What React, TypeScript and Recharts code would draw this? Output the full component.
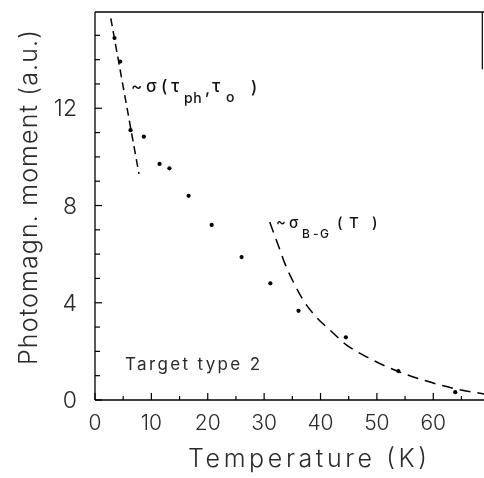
import React from 'react';
import { ComposedChart, XAxis, YAxis, Scatter, Line, ReferenceLine } from 'recharts';

const temperature = [3.46, 4.47, 6.3, 8.66, 11.45, 13.2, 16.6, 20.7, 26.0, 31.1, 36.1, 44.5, 53.8, 63.9];
const moment = [14.89, 13.92, 11.1, 10.83, 9.71, 9.53, 8.4, 7.2, 5.88, 4.8, 3.67, 2.58, 1.19, 0.32];

const phononFitX = [2.8, 7.8];
const phononFitY = [15.7, 9.3];

const bgFitX = [31.0, 32.6, 33.7, 35.3, 37.1, 39.3, 41.8, 44.4, 48.4, 53.8, 58.5, 63.8, 69];
const bgFitY = [7.32, 6.3, 5.6, 4.8, 4.05, 3.4, 2.85, 2.3, 1.75, 1.17, 0.8, 0.47, 0.25];

const xTicks = [0, 5, 10, 15, 20, 25, 30, 35, 40, 45, 50, 55, 60, 65];
const xLabelTicks = [0, 10, 20, 30, 40, 50, 60];
const yTicks = [0, 1, 2, 3, 4, 5, 6, 7, 8, 9, 10, 11, 12, 13, 14, 15];
const yLabelTicks = [0, 4, 8, 12];

const X_MAX = 69;
const Y_MAX = 15.96;

const points = temperature.map((t, i) => ({ x: t, y: moment[i] }));
const phononFit = phononFitX.map((t, i) => ({ x: t, y: phononFitY[i] }));
const bgFit = bgFitX.map((t, i) => ({ x: t, y: bgFitY[i] }));

const W = 484;
const H = 478;
const M = { top: 12, right: 0, bottom: 38, left: 35 };
const Y_AXIS_W = 60;
const X_AXIS_H = 40;
const AXIS_X = M.left + Y_AXIS_W; // left axis line position
const AXIS_Y = H - M.bottom - X_AXIS_H; // bottom axis line position

const FONT = "Inter, 'DejaVu Sans', sans-serif";
const TXT = '#2a2a2a';
const ANN = '#111';

const XTick = (props: any) => {
  const { x, payload } = props;
  const major = xLabelTicks.includes(payload.value);
  return (
    <g>
      <path d={`M${x},${AXIS_Y}V${AXIS_Y - (major ? 7 : 4)}`} stroke="#000" strokeWidth={1.2} fill="none" />
      {major && (
        <text x={x} y={AXIS_Y + 30} textAnchor="middle" fontSize={21} fontFamily={FONT} fontWeight={300} fill={TXT}>
          {payload.value}
        </text>
      )}
    </g>
  );
};

const YTick = (props: any) => {
  const { y, payload } = props;
  const major = yLabelTicks.includes(payload.value);
  return (
    <g>
      <path d={`M${AXIS_X},${y}H${AXIS_X + (major ? 7 : 5)}`} stroke="#000" strokeWidth={1.2} fill="none" />
      {major && (
        <text x={AXIS_X - 18} y={y + 8} textAnchor="end" fontSize={23} fontFamily={FONT} fontWeight={300} fill={TXT}>
          {payload.value}
        </text>
      )}
    </g>
  );
};

const Dot = (props: any) => <circle cx={props.cx} cy={props.cy} r={2.1} fill="#000" />;

export default function App() {
  return (
    <div style={{ position: 'fixed', left: 0, top: 0, width: W, height: H }}>
      <ComposedChart width={W} height={H} margin={M}>
        <XAxis
          type="number"
          dataKey="x"
          domain={[0, X_MAX]}
          ticks={xTicks}
          interval={0}
          allowDataOverflow
          height={X_AXIS_H}
          tickSize={0}
          tickMargin={0}
          tickLine={false}
          tick={<XTick />}
          axisLine={{ stroke: '#000', strokeWidth: 1.3 }}
        />
        <YAxis
          type="number"
          dataKey="y"
          domain={[0, Y_MAX]}
          ticks={yTicks}
          interval={0}
          allowDataOverflow
          width={Y_AXIS_W}
          tickSize={0}
          tickMargin={0}
          tickLine={false}
          tick={<YTick />}
          axisLine={{ stroke: '#000', strokeWidth: 1.3 }}
        />
        <ReferenceLine y={Y_MAX} stroke="#000" strokeWidth={1.3} />
        <ReferenceLine segment={[{ x: 68.7, y: 13.6 }, { x: 68.7, y: Y_MAX }]} stroke="#000" strokeWidth={1.2} />
        <Line data={phononFit} dataKey="y" type="linear" stroke="#000" strokeWidth={1.5} strokeDasharray="8 5" dot={false} isAnimationActive={false} />
        <Line data={bgFit} dataKey="y" type="monotone" stroke="#000" strokeWidth={1.5} strokeDasharray="11 7" dot={false} isAnimationActive={false} />
        <Scatter data={points} dataKey="y" shape={<Dot />} isAnimationActive={false} />
      </ComposedChart>
      <svg width={W} height={H} style={{ position: 'absolute', left: 0, top: 0, pointerEvents: 'none' }}>
        <text x={188} y={467} fontSize={25} fontFamily={FONT} fontWeight={300} fill={TXT} textLength={239} lengthAdjust="spacing">
          Temperature (K)
        </text>
        <text
          transform="translate(37,365) rotate(-90)"
          x={0}
          y={0}
          fontSize={25}
          fontFamily={FONT}
          fontWeight={300}
          fill={TXT}
          textLength={335}
          lengthAdjust="spacing"
        >
          Photomagn. moment (a.u.)
        </text>
        <text x={125} y={370} fontSize={17} fontFamily={FONT} fontWeight={400} fill={TXT} textLength={135} lengthAdjust="spacing">
          Target type 2
        </text>
        <text fontSize={17} fontFamily={FONT} fontWeight={500} fill={ANN}>
          <tspan x={131} y={92}>~</tspan>
          <tspan x={146} y={92}>σ</tspan>
          <tspan x={161} y={92}>(</tspan>
          <tspan x={171} y={92}>τ</tspan>
          <tspan x={184} y={103} fontSize={14} letterSpacing={0.5}>ph</tspan>
          <tspan x={205} y={94}>,</tspan>
          <tspan x={212} y={92}>τ</tspan>
          <tspan x={226} y={102} fontSize={14}>o</tspan>
          <tspan x={251} y={93}>)</tspan>
        </text>
        <text fontSize={15} fontFamily={FONT} fontWeight={500} fill={ANN}>
          <tspan x={276} y={227}>~</tspan>
          <tspan x={289} y={228}>σ</tspan>
          <tspan x={302} y={238} fontSize={12}>B</tspan>
          <tspan x={313} y={238} fontSize={12}>-</tspan>
          <tspan x={320} y={238} fontSize={12}>G</tspan>
          <tspan x={337} y={228}>(</tspan>
          <tspan x={349} y={228}>T</tspan>
          <tspan x={372} y={228}>)</tspan>
        </text>
      </svg>
    </div>
  );
}
